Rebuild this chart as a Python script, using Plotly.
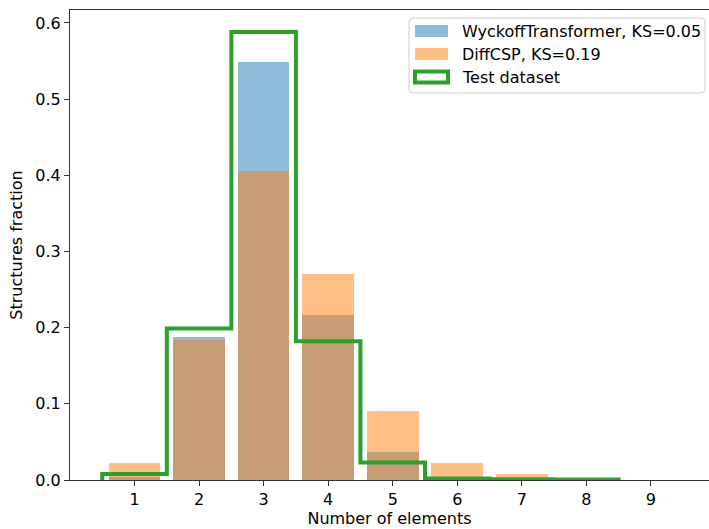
import plotly.graph_objects as go

n_elements = [1, 2, 3, 4, 5, 6, 7, 8, 9]
wyckoff = [0.004, 0.188, 0.549, 0.217, 0.037, 0.002, 0.001, 0.001, 0.0]
diffcsp = [0.022, 0.184, 0.406, 0.270, 0.091, 0.022, 0.008, 0.001, 0.0]
test_edges = [0.5, 1.5, 2.5, 3.5, 4.5, 5.5, 6.5, 7.5, 8.5]
test_vals = [0.008, 0.199, 0.588, 0.182, 0.023, 0.002, 0.001, 0.0005]
legend_labels = ["WyckoffTransformer, KS=0.05", "DiffCSP, KS=0.19", "Test dataset"]

FONT = "DejaVu Sans"
FS = 16
BLUE = "rgba(31,119,180,0.5)"
ORANGE = "rgba(255,127,14,0.5)"
GREEN = "#2ca02c"
AXC = "#333333"

W, H = 709, 529
L, R, T, B = 70, 0, 10, 49
PW, PH = W - L - R, H - T - B


def px(x):
    return (x - L) / PW


def py(y):
    return (H - B - y) / PH


fig = go.Figure()
fig.add_trace(go.Bar(x=n_elements, y=wyckoff, width=0.8, name=legend_labels[0],
                     marker=dict(color=BLUE, line=dict(width=0)), showlegend=False))
fig.add_trace(go.Bar(x=n_elements, y=diffcsp, width=0.8, name=legend_labels[1],
                     marker=dict(color=ORANGE, line=dict(width=0)), showlegend=False))
sx = [test_edges[0]] + test_edges
sy = [0] + test_vals + [0]
fig.add_trace(go.Scatter(x=sx, y=sy, mode="lines", line=dict(color=GREEN, width=4, shape="hv"),
                         name=legend_labels[2], showlegend=False))

# custom legend (matplotlib-like)
shapes = []
x0, x1, y0, y1, r = 409, 705, 18, 93, 4
path = (f"M {px(x0 + r)},{py(y0)} L {px(x1 - r)},{py(y0)} Q {px(x1)},{py(y0)} {px(x1)},{py(y0 + r)} "
        f"L {px(x1)},{py(y1 - r)} Q {px(x1)},{py(y1)} {px(x1 - r)},{py(y1)} "
        f"L {px(x0 + r)},{py(y1)} Q {px(x0)},{py(y1)} {px(x0)},{py(y1 - r)} "
        f"L {px(x0)},{py(y0 + r)} Q {px(x0)},{py(y0)} {px(x0 + r)},{py(y0)} Z")
shapes.append(dict(type="path", xref="paper", yref="paper", path=path,
                   fillcolor="rgba(255,255,255,0.8)", line=dict(color="#cccccc", width=1), layer="above"))
rows = [31, 54, 77]
shapes.append(dict(type="rect", xref="paper", yref="paper", x0=px(415), x1=px(448),
                   y0=py(rows[0] - 6), y1=py(rows[0] + 6), fillcolor=BLUE, line=dict(width=0), layer="above"))
shapes.append(dict(type="rect", xref="paper", yref="paper", x0=px(415), x1=px(448),
                   y0=py(rows[1] - 6), y1=py(rows[1] + 6), fillcolor=ORANGE, line=dict(width=0), layer="above"))
shapes.append(dict(type="rect", xref="paper", yref="paper", x0=px(415), x1=px(448),
                   y0=py(rows[2] - 5.5), y1=py(rows[2] + 5.5), fillcolor="white",
                   line=dict(color=GREEN, width=4), layer="above"))
annotations = []
for lab, ry in zip(legend_labels, rows):
    annotations.append(dict(text=lab, xref="paper", yref="paper", x=px(460), y=py(ry),
                            xanchor="left", yanchor="middle", showarrow=False,
                            font=dict(family=FONT, size=FS, color="black")))

fig.update_layout(
    width=W, height=H, barmode="overlay", bargap=0,
    margin=dict(l=L, r=R, t=T, b=B),
    plot_bgcolor="white", paper_bgcolor="white",
    font=dict(family=FONT, size=FS, color="black"),
    showlegend=False, shapes=shapes, annotations=annotations,
)
fig.update_xaxes(range=[0.0, 9.9], tickvals=n_elements, ticks="outside", ticklen=5, tickcolor=AXC,
                 showline=True, linecolor=AXC, linewidth=1, mirror=True, showgrid=False, zeroline=False,
                 title=dict(text="Number of elements", font=dict(size=FS), standoff=4))
fig.update_yaxes(range=[0, 0.617], tickvals=[0, 0.1, 0.2, 0.3, 0.4, 0.5, 0.6], tickformat=".1f",
                 ticks="outside", ticklen=5, tickcolor=AXC,
                 showline=True, linecolor=AXC, linewidth=1, mirror=False, showgrid=False, zeroline=False,
                 title=dict(text="Structures fraction", font=dict(size=FS), standoff=8))

fig.write_html("out.html")
